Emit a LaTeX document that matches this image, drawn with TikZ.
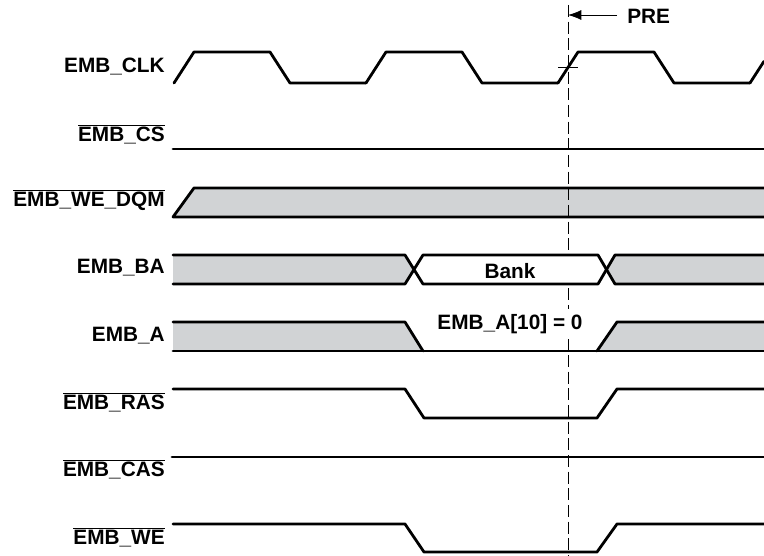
\documentclass[tikz,border=0pt]{standalone}
\usepackage{fontspec}
\setmainfont{Liberation Sans}
\usepackage{tikz}
\usetikzlibrary{arrows.meta}
\definecolor{busgray}{RGB}{209,211,213}
\newcommand{\inv}[1]{$\overline{\mbox{#1}}$}

\begin{document}
\begin{tikzpicture}[x=0.75pt, y=-0.75pt,
  sig/.style={line width=2.1pt, line cap=round, line join=round},
  bus/.style={fill=busgray},
  lbl/.style={anchor=east, font=\fontsize{15.6}{18}\selectfont\bfseries, inner sep=0pt},
  txt/.style={font=\fontsize{15.6}{18}\selectfont\bfseries}]
\useasboundingbox (0,0) rectangle (764,556);
% Etiquetas de las senales
\node[lbl] (clk) at (165,67)  {EMB\_CLK};
\node[lbl] (cs)  at (165,134) {\inv{EMB\_CS}};
\node[lbl] (dqm) at (165,200) {\inv{EMB\_WE\_DQM}};
\node[lbl] (ba)  at (165,268) {EMB\_BA};
\node[lbl] (a)   at (165,336) {EMB\_A};
\node[lbl] (ras) at (165,402) {\inv{EMB\_RAS}};
\node[lbl] (cas) at (165,469) {\inv{EMB\_CAS}};
\node[lbl] (we)  at (165,537) {\inv{EMB\_WE}};
% Zonas grises de los buses
\fill[bus] (173,217) -- (194,188) -- (764,188) -- (764,217) -- cycle;
\fill[bus] (173,255) -- (405,255) -- (414,269.5) -- (405,284) -- (173,284) -- cycle;
\fill[bus] (607,269.5) -- (615,255) -- (764,255) -- (764,284) -- (615,284) -- cycle;
\fill[bus] (173,322) -- (405,322) -- (423,351) -- (173,351) -- cycle;
\fill[bus] (597,351) -- (617,322) -- (764,322) -- (764,351) -- cycle;
% Linea de referencia PRE
\coordinate (top) at (568,5);
\coordinate (bot) at (568,556);
\draw[dash pattern=on 9pt off 3.5pt, line width=0.6pt] (top) -- (bot);
\draw[line width=0.6pt] (558,67) -- (578,67);
\coordinate (pretail) at (617,15);
\coordinate (pretip) at (568,15);
\draw[line width=0.6pt, -{Latex[length=10pt, width=7.5pt]}] (pretail) -- (pretip);
\node[txt, anchor=west, inner sep=0pt] (pre) at (627,16) {PRE};
% Ventana Bank y direccion
\fill[white] (414,269.5) -- (423,256) -- (598,256) -- (607,269.5) -- (598,283) -- (423,283) -- cycle;
\node[txt, inner sep=0pt] (bank) at (510,271) {Bank};
\node[txt, fill=white, inner sep=4pt] (a10) at (510,324) {EMB\_A[10] = 0};
% Reloj
\foreach \t in {174,366,558} {
  \draw[sig] (\t,83) -- (\t+20,52) -- (\t+96,52) -- (\t+116,83) -- (\t+192,83);
}
\draw[sig] (750,83) -- (764,61.3);
% Senales de control
\draw[sig] (173,149) -- (764,149);
\draw[sig] (764,188) -- (194,188) -- (173,217) -- (764,217);
\draw[sig] (173,255) -- (405,255) -- (423,284) -- (598,284) -- (615,255) -- (764,255);
\draw[sig] (173,284) -- (405,284) -- (423,255) -- (598,255) -- (615,284) -- (764,284);
\draw[sig] (173,322) -- (405,322) -- (423,351);
\draw[sig] (173,351) -- (764,351);
\draw[sig] (597,351) -- (617,322) -- (764,322);
\draw[sig] (173,389) -- (405,389) -- (424,418) -- (597,418) -- (617,389) -- (764,389);
\draw[sig] (172,457) -- (764,457);
\draw[sig] (173,524) -- (405,524) -- (424,552) -- (597,552) -- (617,524) -- (764,524);
\end{tikzpicture}
\end{document}
